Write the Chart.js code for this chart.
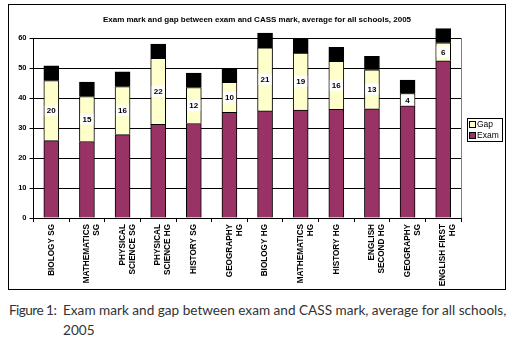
<!DOCTYPE html>
<html><head><meta charset="utf-8">
<script src="https://cdn.jsdelivr.net/npm/chart.js@4"></script>
<style>
body{margin:0;background:#fff;width:513px;height:338px;overflow:hidden;position:relative}
#c{position:absolute;left:0;top:0}
.cap{position:absolute;font-family:Lato,"Open Sans",sans-serif;font-size:13.6px;color:#333;white-space:nowrap;line-height:20px}
</style></head><body>
<canvas id="c" width="513" height="292"></canvas>
<div class="cap" style="left:9px;top:300px;letter-spacing:-0.55px">Figure 1:</div>
<div class="cap" style="left:63px;top:300px">Exam mark and gap between exam and CASS mark, average for all schools,<br>2005</div>
<script>
const chartTitle = "Exam mark and gap between exam and CASS mark, average for all schools, 2005";
const categories = [["BIOLOGY SG"],["MATHEMATICS","SG"],["PHYSICAL","SCIENCE SG"],["PHYSICAL","SCIENCE HG"],["HISTORY SG"],["GEOGRAPHY","HG"],["BIOLOGY HG"],["MATHEMATICS","HG"],["HISTORY HG"],["ENGLISH","SECOND HG"],["GEOGRAPHY","SG"],["ENGLISH FIRST","HG"]];
const examValues = [25.8, 25.5, 27.8, 31.2, 31.5, 35.2, 35.7, 36.0, 36.2, 36.4, 37.4, 52.4];
const gapValues = [20, 15, 16, 22, 12, 10, 21, 19, 16, 13, 4, 6];
const capValues = [4.9, 4.8, 4.9, 4.8, 4.8, 4.7, 4.9, 4.8, 4.7, 4.5, 4.6, 4.7];
const yMin = 0, yMax = 60, yStep = 10;

const EXAM_COL = '#993366', GAP_COL = '#FFFFCC';
const FONT = '"Liberation Sans", Arial, sans-serif';

const deco = {
  id: 'deco',
  beforeDraw(chart) {
    const ctx = chart.ctx;
    ctx.save();
    ctx.fillStyle = '#fff';
    ctx.fillRect(0, 0, chart.width, chart.height);
    ctx.strokeStyle = '#000';
    ctx.lineWidth = 1;
    ctx.strokeRect(8.5, 4.5, 497, 285);
    ctx.restore();
  },
  afterDatasetsDraw(chart) {
    const ctx = chart.ctx;
    const meta = chart.getDatasetMeta(1);
    ctx.save();
    ctx.font = 'bold 8px ' + FONT;
    ctx.textAlign = 'center';
    ctx.textBaseline = 'middle';
    meta.data.forEach((el, i) => {
      const cy = (el.y + el.base) / 2;
      const w = 13, h = 11;
      ctx.fillStyle = '#fff';
      ctx.fillRect(el.x - w / 2, cy - h / 2, w, h);
      ctx.fillStyle = '#000';
      ctx.fillText(String(gapValues[i]), el.x, cy + 0.5);
    });
    ctx.restore();
  },
  afterDraw(chart) {
    const ctx = chart.ctx;
    const a = chart.chartArea;
    ctx.save();
    ctx.strokeStyle = '#808080';
    ctx.lineWidth = 1;
    ctx.beginPath();
    ctx.moveTo(Math.round(a.right) + 0.5, a.top);
    ctx.lineTo(Math.round(a.right) + 0.5, a.bottom);
    ctx.stroke();
    ctx.fillStyle = '#000';
    ctx.font = 'bold 8px ' + FONT;
    ctx.textAlign = 'center';
    ctx.textBaseline = 'middle';
    ctx.fillText(chartTitle, 257, 19.5);
    ctx.strokeStyle = '#000';
    ctx.strokeRect(467.5, 118.5, 35, 23);
    const items = [[chart.data.datasets[1].label, GAP_COL], [chart.data.datasets[0].label, EXAM_COL]];
    ctx.font = '8.5px ' + FONT;
    ctx.textAlign = 'left';
    items.forEach((it, k) => {
      const cy = 124.5 + k * 11;
      ctx.fillStyle = it[1];
      ctx.fillRect(469.5, cy - 3, 6, 6);
      ctx.strokeRect(469.5, cy - 3, 6, 6);
      ctx.fillStyle = '#000';
      ctx.fillText(it[0], 477, cy + 0.5);
    });
    ctx.restore();
  }
};

new Chart(document.getElementById('c'), {
  type: 'bar',
  data: {
    labels: categories,
    datasets: [
      {label: 'Exam', data: examValues, backgroundColor: EXAM_COL, borderColor: '#000', borderWidth: 1, barThickness: 15, clip: false},
      {label: 'Gap', data: gapValues, backgroundColor: GAP_COL, borderColor: '#000', borderWidth: 1, barThickness: 15, clip: false},
      {label: 'CASS', data: capValues, backgroundColor: '#000', borderColor: '#000', borderWidth: 1, barThickness: 15, clip: false}
    ]
  },
  options: {
    responsive: false,
    animation: false,
    devicePixelRatio: 1,
    layout: {padding: {top: 38, right: 52, left: 0, bottom: 0}},
    plugins: {legend: {display: false}, tooltip: {enabled: false}},
    scales: {
      x: {
        stacked: true,
        grid: {display: true, drawOnChartArea: false, drawTicks: true, tickLength: 4, color: '#000', offset: true},
        border: {color: '#000'},
        ticks: {font: {family: FONT, size: 8.2, weight: 'bold'}, color: '#000', maxRotation: 90, minRotation: 90, autoSkip: false, padding: 2},
        afterFit(s) { s.height = 74; }
      },
      y: {
        stacked: true,
        min: yMin, max: yMax,
        grid: {color: '#000', tickLength: 4},
        border: {color: '#000'},
        ticks: {stepSize: yStep, font: {family: FONT, size: 7.5, weight: 'bold'}, color: '#000', padding: 3},
        afterFit(s) { s.width = 33.5; }
      }
    }
  },
  plugins: [deco]
});
</script>
</body></html>
